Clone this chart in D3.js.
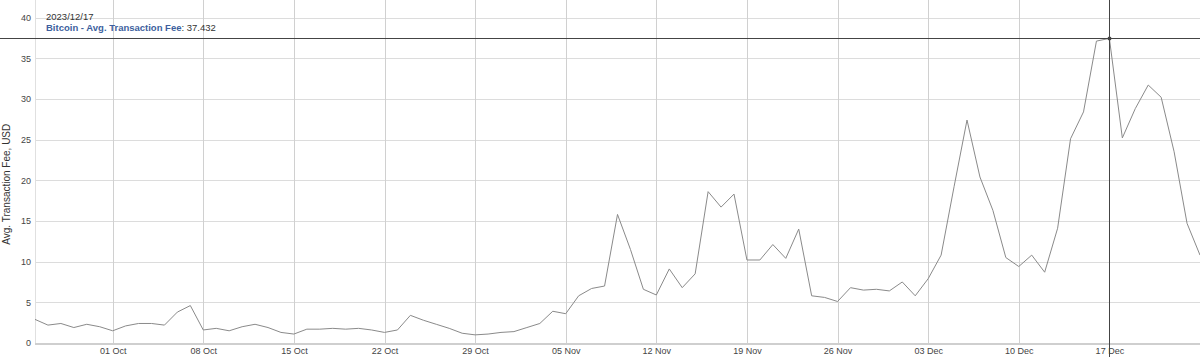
<!DOCTYPE html>
<html>
<head>
<meta charset="utf-8">
<script src="https://cdn.jsdelivr.net/npm/d3@7"></script>
<style>
  body { margin: 0; background: #fff; }
  svg { display: block; font-family: "Liberation Sans", Arial, sans-serif; }
</style>
</head>
<body>
<div id="chart"></div>
<script>
// daily values, 25 Sep 2023 .. 24 Dec 2023
const startDay = "2023-09-25"
const endDay = "2023-12-24"
const fees = [
  2.9, 2.2, 2.4, 1.9, 2.3, 2.0, 1.5, 2.1, 2.4, 2.4,
  2.2, 3.8, 4.6, 1.6, 1.8, 1.5, 2.0, 2.3, 1.9, 1.3,
  1.1, 1.7, 1.7, 1.8, 1.7, 1.8, 1.6, 1.3, 1.6, 3.4,
  2.8, 2.3, 1.8, 1.2, 1.0, 1.1, 1.3, 1.4, 1.9, 2.4,
  3.9, 3.6, 5.8, 6.7, 7.0, 15.8, 11.5, 6.6, 5.9, 9.1,
  6.8, 8.5, 18.6, 16.7, 18.3, 10.2, 10.2, 12.1, 10.4, 14.0,
  5.8, 5.6, 5.1, 6.8, 6.5, 6.6, 6.4, 7.5, 5.8, 7.9,
  10.8, 19.2, 27.4, 20.4, 16.3, 10.5, 9.4, 10.8, 8.7, 14.1,
  25.1, 28.4, 37.1, 37.432, 25.2, 28.8, 31.7, 30.2, 23.5, 14.7,
  10.8
]
const yTicks = [0, 5, 10, 15, 20, 25, 30, 35, 40]
const seriesName = "Bitcoin - Avg. Transaction Fee"
const yTitle = "Avg. Transaction Fee, USD"
const hoverDay = "2023-12-17"

const W = 1200, H = 357
const margin = {top: 17.5, right: 0, bottom: 14, left: 35}

const parse = d3.utcParse("%Y-%m-%d")
const days = d3.utcDay.range(parse(startDay), d3.utcDay.offset(parse(endDay), 1))
const data = days.map((d, i) => ({date: d, value: fees[i]}))

const svg = d3.select("#chart").append("svg")
  .attr("width", W).attr("height", H)

const x = d3.scaleUtc()
  .domain(d3.extent(days))
  .range([margin.left, W - margin.right])

const y = d3.scaleLinear()
  .domain([0, 40])
  .range([H - margin.bottom, margin.top])

const weekTicks = d3.utcSunday.range(days[0], days[days.length - 1])

// grid
svg.append("g")
  .selectAll("line.h")
  .data(yTicks.slice(1))
  .join("line")
    .attr("x1", margin.left).attr("x2", W)
    .attr("y1", d => Math.round(y(d)) + 0.5).attr("y2", d => Math.round(y(d)) + 0.5)
    .attr("stroke", "#dcdcdc")

svg.append("g")
  .selectAll("line.v")
  .data(weekTicks)
  .join("line")
    .attr("x1", d => Math.round(x(d)) + 0.5).attr("x2", d => Math.round(x(d)) + 0.5)
    .attr("y1", 0).attr("y2", y(0))
    .attr("stroke", "#d0d0d0")

// left axis line + base line
svg.append("line")
  .attr("x1", margin.left + 0.5).attr("x2", margin.left + 0.5)
  .attr("y1", 0).attr("y2", y(0))
  .attr("stroke", "#e0e0e0")
svg.append("line")
  .attr("x1", margin.left).attr("x2", W)
  .attr("y1", y(0) + 1).attr("y2", y(0) + 1)
  .attr("stroke", "#cfcfcf").attr("stroke-width", 2)

// y axis
const yAxis = svg.append("g")
  .attr("transform", `translate(${margin.left},0)`)
  .call(d3.axisLeft(y).tickValues(yTicks).tickSize(0).tickPadding(4))
yAxis.select(".domain").remove()
yAxis.selectAll("text")
  .attr("fill", "#444").attr("font-size", 9)
  .attr("font-family", "Liberation Sans, Arial, sans-serif")

// x axis
const xAxis = svg.append("g")
  .attr("transform", `translate(0,${y(0)})`)
  .call(d3.axisBottom(x).tickValues(weekTicks).tickFormat(d3.utcFormat("%d %b")).tickSize(0).tickPadding(5))
xAxis.select(".domain").remove()
xAxis.selectAll("text")
  .attr("fill", "#444").attr("font-size", 9)
  .attr("font-family", "Liberation Sans, Arial, sans-serif")

// axis title
svg.append("text")
  .attr("transform", `translate(10,${(y(0) + y(40)) / 2 + 4}) rotate(-90)`)
  .attr("text-anchor", "middle")
  .attr("font-size", 10)
  .attr("fill", "#333")
  .text(yTitle)

// line
const line = d3.line()
  .x(d => x(d.date))
  .y(d => y(d.value))

svg.append("path")
  .datum(data)
  .attr("fill", "none")
  .attr("stroke", "#8a8a8a")
  .attr("stroke-width", 1)
  .attr("d", line)

// crosshair
const hd = data.find(d => +d.date === +parse(hoverDay))
const hx = Math.round(x(hd.date)) + 0.5, hy = Math.round(y(hd.value)) + 0.5
svg.append("line")
  .attr("x1", 0).attr("x2", W).attr("y1", hy).attr("y2", hy)
  .attr("stroke", "#444")
svg.append("line")
  .attr("x1", hx).attr("x2", hx).attr("y1", 0).attr("y2", H)
  .attr("stroke", "#444")
svg.append("circle")
  .attr("cx", hx).attr("cy", hy).attr("r", 2)
  .attr("fill", "#444")

// legend / tooltip
const lg = svg.append("g").attr("font-size", 9.5)
lg.append("text")
  .attr("x", 46).attr("y", 20)
  .attr("fill", "#333")
  .text(d3.utcFormat("%Y/%m/%d")(hd.date))
const t2 = lg.append("text").attr("x", 46).attr("y", 31)
t2.append("tspan").attr("font-weight", "bold").attr("fill", "#3d5f9e").text(seriesName)
t2.append("tspan").attr("fill", "#333").text(": " + hd.value)
</script>
</body>
</html>
